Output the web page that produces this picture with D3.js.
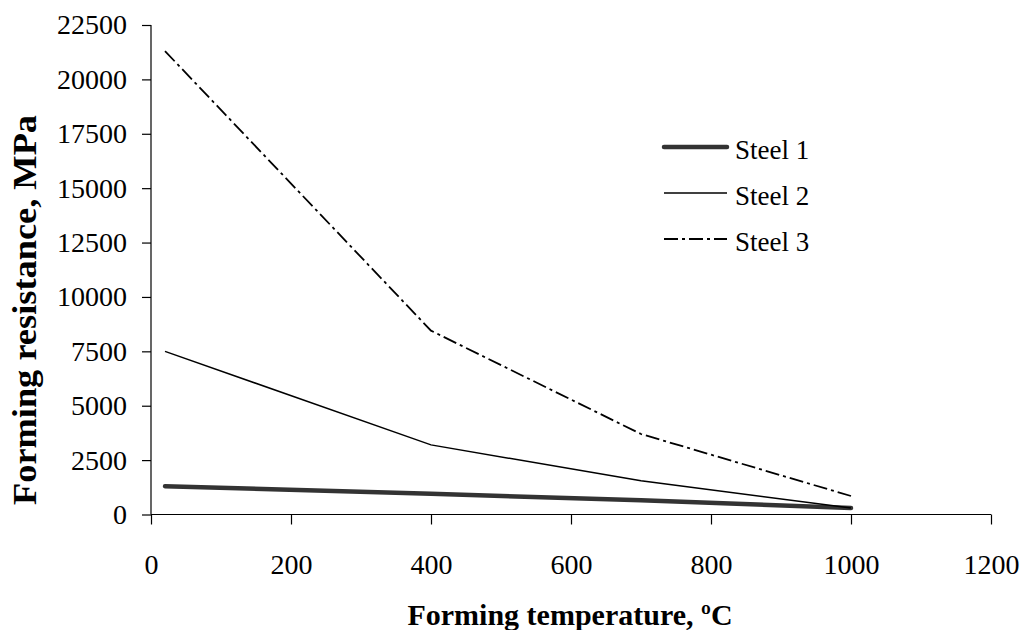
<!DOCTYPE html>
<html><head><meta charset="utf-8">
<script src="https://cdn.jsdelivr.net/npm/d3@7"></script>
<style>body{margin:0;background:#fff}svg{display:block}text{font-family:"Liberation Serif","Times New Roman",serif}</style>
</head><body>
<svg id="c" width="1023" height="630"></svg>
<script>
const temps = [20, 400, 700, 1000];
const steel1 = [1300, 950, 650, 300];
const steel2 = [7500, 3200, 1550, 300];
const steel3 = [21300, 8450, 3700, 850];
const seriesNames = ["Steel 1", "Steel 2", "Steel 3"];
const xTicks = [0, 200, 400, 600, 800, 1000, 1200];
const yTicks = [0, 2500, 5000, 7500, 10000, 12500, 15000, 17500, 20000, 22500];

const svg = d3.select("#c");
const x = d3.scaleLinear().domain([0, 1200]).range([151, 991]);
const y = d3.scaleLinear().domain([0, 22500]).range([514.5, 25]);

const styles = [
  {w: 4.5, c: "#333", dash: null},
  {w: 1.5, c: "#000", dash: null},
  {w: 1.8, c: "#000", dash: "14,4,3,4"}
];
const series = [steel1, steel2, steel3];

const xa = svg.append("g").attr("transform", "translate(0,514.5)")
  .call(d3.axisBottom(x).tickValues(xTicks).tickSize(10).tickPadding(30).tickFormat(d3.format("d")));
const ya = svg.append("g").attr("transform", "translate(151,0)")
  .call(d3.axisLeft(y).tickValues(yTicks).tickSize(9).tickPadding(15).tickFormat(d3.format("d")));
[xa, ya].forEach(a => {
  a.attr("font-family", "Liberation Serif");
  a.select(".domain").attr("stroke", "#000").attr("stroke-width", 1.2);
  a.selectAll(".tick line").attr("stroke", "#000").attr("stroke-width", 1.2);
  a.selectAll(".tick text").attr("font-size", 28).attr("fill", "#000");
});
xa.select(".domain").attr("d", "M151,0H991");
ya.select(".domain").attr("d", "M0,514.5V25");

const line = d3.line().x((d, i) => x(temps[i])).y(d => y(d));
series.forEach((s, k) => {
  svg.append("path").attr("d", line(s)).attr("fill", "none")
    .attr("stroke", styles[k].c).attr("stroke-width", styles[k].w)
    .attr("stroke-linecap", k === 0 ? "round" : "butt")
    .attr("stroke-dasharray", styles[k].dash);
});

const legY = [147, 193, 239];
seriesNames.forEach((n, k) => {
  svg.append("line").attr("x1", 664).attr("x2", 727).attr("y1", legY[k]).attr("y2", legY[k])
    .attr("stroke", styles[k].c).attr("stroke-width", styles[k].w)
    .attr("stroke-linecap", k === 0 ? "round" : "butt")
    .attr("stroke-dasharray", styles[k].dash);
  svg.append("text").attr("x", 735).attr("y", legY[k] + 12).attr("font-size", 27).text(n);
});

svg.append("text").attr("x", 570).attr("y", 625).attr("text-anchor", "middle")
  .attr("font-size", 30).attr("font-weight", "bold").text("Forming temperature, ºC");
svg.append("text").attr("transform", "translate(36,310) rotate(-90)").attr("text-anchor", "middle")
  .attr("font-size", 33).attr("font-weight", "bold")
  .attr("textLength", 390).attr("lengthAdjust", "spacingAndGlyphs")
  .text("Forming resistance, MPa");
</script>
</body></html>
